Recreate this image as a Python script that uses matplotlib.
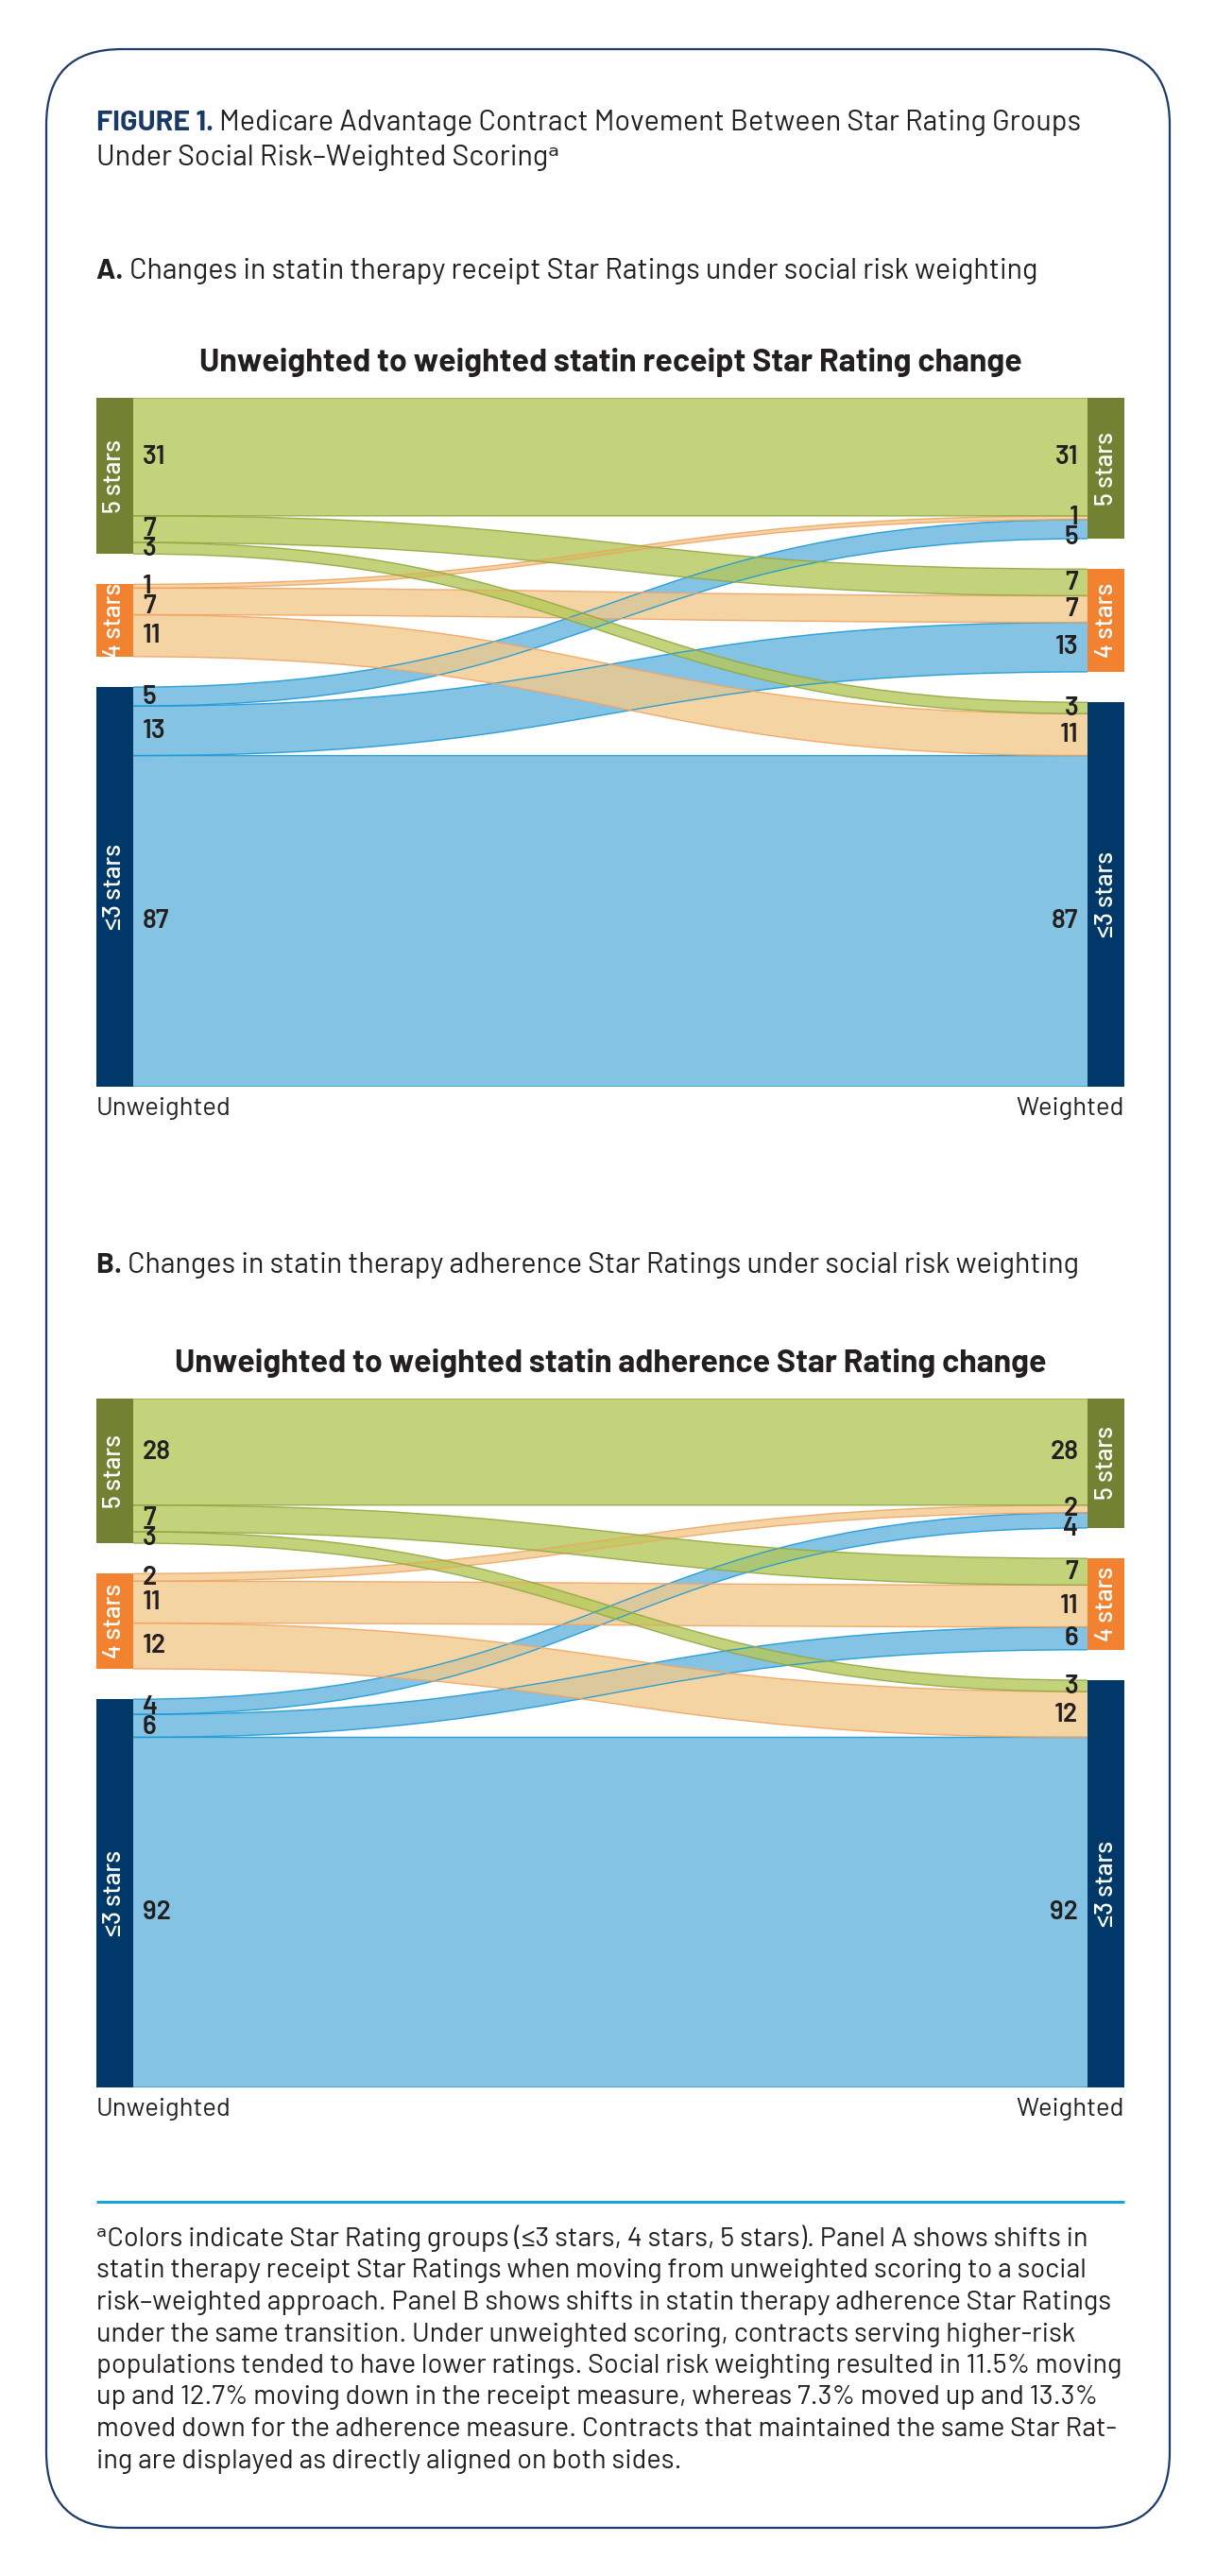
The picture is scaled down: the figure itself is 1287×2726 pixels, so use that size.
import matplotlib
matplotlib.use("Agg")
from matplotlib import pyplot as plt
from matplotlib import font_manager
from matplotlib.path import Path
from matplotlib.patches import PathPatch, Rectangle, FancyBboxPatch
import numpy as np

# categories (top to bottom)
groups = ["5 stars", "4 stars", "≤3 stars"]

# panel A: flows[source][target], statin receipt
receipt_flows = [
    [31, 7, 3],
    [1, 7, 11],
    [5, 13, 87],
]
# panel B: statin adherence
adherence_flows = [
    [28, 7, 3],
    [2, 11, 12],
    [4, 6, 92],
]

node_colors = ["#738232", "#f28230", "#003869"]
flow_fill = ["#b5c95a", "#f2ca8c", "#65b5dd"]
flow_edge = ["#93a843", "#f0a564", "#1b9ad6"]

W, H = 1287, 2726

names = {f.name for f in font_manager.fontManager.ttflist}
FONT = "DejaVu Sans"
for cand in ["Barlow", "Roboto", "Noto Sans"]:
    if cand in names:
        FONT = cand
        break
plt.rcParams["font.family"] = [FONT, "DejaVu Sans"]

fig = plt.figure(figsize=(W / 100, H / 100), dpi=100)
renderer = fig.canvas.get_renderer()
bg = fig.add_axes([0, 0, 1, 1])
bg.set_xlim(0, W)
bg.set_ylim(H, 0)
bg.axis("off")


def width_px(s, size, weight="normal"):
    t = bg.text(0, 0, s, fontsize=size, fontweight=weight)
    w = t.get_window_extent(renderer).width
    t.remove()
    return w


def fit(s, target, weight="normal"):
    return 20 * target / width_px(s, 20, weight)


dark = "#231f20"

# rounded border
bg.add_patch(FancyBboxPatch((49, 52), 1189, 2623, boxstyle="round,pad=0,rounding_size=80",
                            fc="none", ec="#1d3c6b", lw=1.6))

head_b = "FIGURE 1. "
head_r = "Medicare Advantage Contract Movement Between Star Rating Groups"
fs_head = 20 * 1042 / (width_px(head_b, 20, "bold") + width_px(head_r, 20))
bg.text(102, 138, head_b, fontsize=fs_head, fontweight="bold", color="#173a66", va="baseline")
bg.text(102 + width_px(head_b, fs_head, "bold"), 138, head_r, fontsize=fs_head, color=dark, va="baseline")
bg.text(102, 175, "Under Social Risk–Weighted Scoringᵃ", fontsize=fs_head, color=dark, va="baseline")

for lab, rest, yb in [("A. ", "Changes in statin therapy receipt Star Ratings under social risk weighting", 295),
                      ("B. ", "Changes in statin therapy adherence Star Ratings under social risk weighting", 1347)]:
    bg.text(102, yb, lab, fontsize=fs_head, fontweight="bold", color=dark, va="baseline")
    bg.text(102 + width_px(lab, fs_head, "bold"), yb, rest, fontsize=fs_head, color=dark, va="baseline")

bg.plot([102, 1190], [2330, 2330], color="#1aa3d9", lw=2.2, solid_capstyle="butt")

footnote = [
    "ᵃColors indicate Star Rating groups (≤3 stars, 4 stars, 5 stars). Panel A shows shifts in",
    "statin therapy receipt Star Ratings when moving from unweighted scoring to a social",
    "risk–weighted approach. Panel B shows shifts in statin therapy adherence Star Ratings",
    "under the same transition. Under unweighted scoring, contracts serving higher-risk",
    "populations tended to have lower ratings. Social risk weighting resulted in 11.5% moving",
    "up and 12.7% moving down in the receipt measure, whereas 7.3% moved up and 13.3%",
    "moved down for the adherence measure. Contracts that maintained the same Star Rat-",
    "ing are displayed as directly aligned on both sides.",
]
fs_note = fit(footnote[4], 1087)
for i, line in enumerate(footnote):
    bg.text(102, 2377 + i * 33.5, line, fontsize=fs_note, color=dark, va="baseline")

fs_title = fit("Unweighted to weighted statin receipt Star Rating change", 872, "bold")
fs_side = fit("Unweighted", 143)


def sankey(ax, flows, title):
    flows = np.array(flows, dtype=float)
    pad = 8.0
    node_w = 39 / 1088
    out_tot = flows.sum(axis=1)
    in_tot = flows.sum(axis=0)
    total = flows.sum()
    ymax = total + pad * (len(groups) - 1)
    ax.set_xlim(0, 1)
    ax.set_ylim(ymax, 0)
    ax.axis("off")

    left_top = np.concatenate([[0], np.cumsum(out_tot + pad)[:-1]])
    right_top = np.concatenate([[0], np.cumsum(in_tot + pad)[:-1]])

    for i in range(len(groups)):
        ax.add_patch(Rectangle((0, left_top[i]), node_w, out_tot[i], fc=node_colors[i], ec="none", zorder=3))
        ax.add_patch(Rectangle((1 - node_w, right_top[i]), node_w, in_tot[i], fc=node_colors[i], ec="none", zorder=3))
        ax.text(node_w / 2, left_top[i] + out_tot[i] / 2, groups[i], rotation=90, ha="center", va="center",
                color="white", fontsize=19, fontweight="medium", zorder=4)
        ax.text(1 - node_w / 2, right_top[i] + in_tot[i] / 2, groups[i], rotation=90, ha="center", va="center",
                color="white", fontsize=19, fontweight="medium", zorder=4)

    # flow positions
    src_y = np.zeros_like(flows)
    dst_y = np.zeros_like(flows)
    for i in range(len(groups)):
        src_y[i] = left_top[i] + np.concatenate([[0], np.cumsum(flows[i])[:-1]])
    for j in range(len(groups)):
        dst_y[:, j] = right_top[j] + np.concatenate([[0], np.cumsum(flows[:, j])[:-1]])

    x0, x1 = node_w, 1 - node_w
    xm = (x0 + x1) / 2
    for i in reversed(range(len(groups))):
        for j in range(len(groups)):
            v = flows[i, j]
            a0, b0 = src_y[i, j], dst_y[i, j]
            a1, b1 = a0 + v, b0 + v
            verts = [(x0, a0), (xm, a0), (xm, b0), (x1, b0),
                     (x1, b1), (xm, b1), (xm, a1), (x0, a1), (x0, a0)]
            codes = [Path.MOVETO, Path.CURVE4, Path.CURVE4, Path.CURVE4,
                     Path.LINETO, Path.CURVE4, Path.CURVE4, Path.CURVE4, Path.CLOSEPOLY]
            ax.add_patch(PathPatch(Path(verts, codes), fc=flow_fill[i], alpha=0.8, ec="none", zorder=1))
            for ya, yb in [(a0, b0), (a1, b1)]:
                edge = Path([(x0, ya), (xm, ya), (xm, yb), (x1, yb)],
                            [Path.MOVETO, Path.CURVE4, Path.CURVE4, Path.CURVE4])
                ax.add_patch(PathPatch(edge, fc="none", ec=flow_edge[i], lw=1.0, alpha=0.9, zorder=2))

    # value labels, pushed apart when too close
    min_gap = 21 / (729 / ymax)

    def spread(vals):
        out = np.array(vals, dtype=float)
        prev = -1e9
        for k in np.argsort(vals):
            if out[k] - prev < min_gap:
                out[k] = prev + min_gap
            prev = out[k]
        return out

    left_l = spread((src_y + flows / 2).ravel())
    right_l = spread((dst_y + flows / 2).ravel())
    for k, v in enumerate(flows.ravel()):
        ax.text(x0 + 0.009, left_l[k], f"{int(v)}", ha="left", va="center", fontsize=20,
                fontweight="semibold", color=dark, zorder=5)
        ax.text(x1 - 0.009, right_l[k], f"{int(v)}", ha="right", va="center", fontsize=20,
                fontweight="semibold", color=dark, zorder=5)

    ax.text(0.5, 1 + 28 / 729, title, transform=ax.transAxes, ha="center", va="baseline",
            fontsize=fs_title, fontweight="bold", color=dark)
    ax.text(0, -30 / 729, "Unweighted", transform=ax.transAxes, ha="left", va="baseline",
            fontsize=fs_side, color=dark)
    ax.text(1, -30 / 729, "Weighted", transform=ax.transAxes, ha="right", va="baseline",
            fontsize=fs_side, color=dark)


def rect(left, top, right, bottom):
    return [left / W, 1 - bottom / H, (right - left) / W, (bottom - top) / H]


axA = fig.add_axes(rect(102, 421, 1190, 1150))
sankey(axA, receipt_flows, "Unweighted to weighted statin receipt Star Rating change")
axB = fig.add_axes(rect(102, 1480, 1190, 2209))
sankey(axB, adherence_flows, "Unweighted to weighted statin adherence Star Rating change")

fig.savefig("out.png", dpi=100, facecolor="white")
